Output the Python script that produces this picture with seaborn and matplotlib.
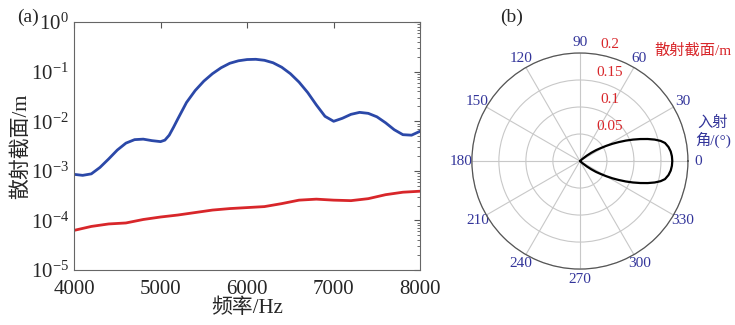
import numpy as np
import pandas as pd
import seaborn as sns
import matplotlib.pyplot as plt
from matplotlib.ticker import LogLocator, NullFormatter

# (a) scattering cross-section vs frequency, log10 values
freq_blue = [4000, 4100, 4200, 4300, 4400, 4500, 4600, 4700, 4800, 4900,
             5000, 5050, 5100, 5150, 5200, 5300, 5400, 5500, 5600, 5700,
             5800, 5900, 6000, 6100, 6200, 6300, 6400, 6500, 6600, 6700,
             6800, 6900, 7000, 7100, 7200, 7300, 7400, 7500, 7600, 7700,
             7800, 7900, 8000]
log_blue = [-3.07, -3.09, -3.06, -2.93, -2.76, -2.58, -2.44, -2.37, -2.36, -2.39,
            -2.41, -2.38, -2.28, -2.12, -1.95, -1.62, -1.38, -1.19, -1.04, -0.92,
            -0.83, -0.78, -0.755, -0.75, -0.77, -0.82, -0.91, -1.04, -1.21, -1.42,
            -1.67, -1.90, -2.00, -1.94, -1.86, -1.82, -1.84, -1.91, -2.03, -2.17,
            -2.27, -2.28, -2.20]
freq_red = [4000, 4200, 4400, 4600, 4800, 5000, 5200, 5400, 5600, 5800, 6000,
            6200, 6400, 6600, 6800, 7000, 7200, 7400, 7600, 7800, 8000]
log_red = [-4.20, -4.12, -4.07, -4.05, -3.98, -3.93, -3.89, -3.84, -3.79, -3.76, -3.74,
           -3.72, -3.66, -3.59, -3.57, -3.59, -3.60, -3.56, -3.48, -3.43, -3.41]

# (b) polar pattern: half-lobe (symmetric about 0 deg)
lobe_deg = [0, 3, 6, 9, 12, 14, 16, 18, 20, 22, 24, 26, 28, 30, 32, 34, 36, 38, 40, 42]
lobe_r = [0.171, 0.1705, 0.169, 0.166, 0.161, 0.154, 0.144, 0.132, 0.119, 0.106,
          0.093, 0.080, 0.068, 0.056, 0.045, 0.036, 0.026, 0.016, 0.006, 0.0]
r_ticks = [0.05, 0.1, 0.15, 0.2]
theta_ticks = list(range(0, 360, 30))

blue = '#2b48a8'
red = '#d8262a'
navy = '#33359a'
fonts = ['Liberation Serif', 'Noto Sans CJK SC']

sns.set_style('white')
plt.rcParams['font.family'] = fonts
plt.rcParams['mathtext.fontset'] = 'stix'

fig = plt.figure(figsize=(7.35, 3.25), dpi=100)

# ---- (a) ----
ax = fig.add_axes([0.1007, 0.169, 0.471, 0.763])
df_b = pd.DataFrame({'f': freq_blue, 'v': 10 ** np.array(log_blue)})
df_r = pd.DataFrame({'f': freq_red, 'v': 10 ** np.array(log_red)})
sns.lineplot(data=df_b, x='f', y='v', ax=ax, color=blue, lw=2)
sns.lineplot(data=df_r, x='f', y='v', ax=ax, color=red, lw=2)
ax.set_yscale('log')
ax.set_xlim(4000, 8000)
ax.set_ylim(1e-5, 1)
ax.yaxis.set_major_locator(LogLocator(base=10, numticks=10))
ax.yaxis.set_minor_locator(LogLocator(base=10, subs=np.arange(2, 10), numticks=10))
ax.yaxis.set_minor_formatter(NullFormatter())
ax.set_xticks([4000, 5000, 6000, 7000, 8000])
ax.tick_params(direction='in', which='both', top=True, right=True,
               labelsize=15, length=4, color='#555555')
ax.tick_params(which='minor', length=2)
ax.tick_params(axis='x', pad=7)
for s in ax.spines.values():
    s.set_color('#666666')
    s.set_linewidth(0.8)
ax.set_xlabel('频率/Hz', fontsize=15, labelpad=0)
ax.set_ylabel('散射截面/m', fontsize=15, labelpad=0)
fig.text(0.038, 0.948, '(a)', fontsize=14, ha='center', va='center')

# ---- (b) ----
pax = fig.add_axes([0.642, 0.172, 0.294, 0.665], projection='polar')
deg = np.array(lobe_deg)
rr = np.array(lobe_r)
full_deg = np.concatenate([-deg[::-1], deg[1:]])
full_r = np.concatenate([rr[::-1], rr[1:]])
df_p = pd.DataFrame({'t': np.deg2rad(full_deg), 'r': full_r})
sns.lineplot(data=df_p, x='t', y='r', ax=pax, color='black', lw=1.6,
             sort=False, estimator=None)
pax.set_xlabel('')
pax.set_ylabel('')
pax.set_ylim(0, 0.2)
pax.set_rticks(r_ticks)
pax.set_yticklabels([])
pax.set_thetagrids(theta_ticks, [str(t) for t in theta_ticks])
pax.tick_params(axis='x', colors=navy, labelsize=11, pad=-3)
pax.grid(color='#c8c8c8', lw=0.8)
pax.spines['polar'].set_color('#555555')
pax.spines['polar'].set_linewidth(0.9)
for r in r_ticks:
    pax.text(0.5 + 30 / 216, 0.5 + r / 0.2 * 0.5 + 8 / 216, str(r).rstrip('0'),
             transform=pax.transAxes, color=red, fontsize=11,
             ha='center', va='center')
fig.text(693 / 735, 1 - 50 / 325, '散射截面/m', color=red, fontsize=11,
         ha='center', va='center', family=fonts)
fig.text(713 / 735, 1 - 132 / 325, '入射\n角/(°)', color=navy, fontsize=11,
         ha='center', va='center', linespacing=1.1, family=fonts)
fig.text(512 / 735, 0.948, '(b)', fontsize=14, ha='center', va='center')

fig.savefig('out.png', dpi=100)
